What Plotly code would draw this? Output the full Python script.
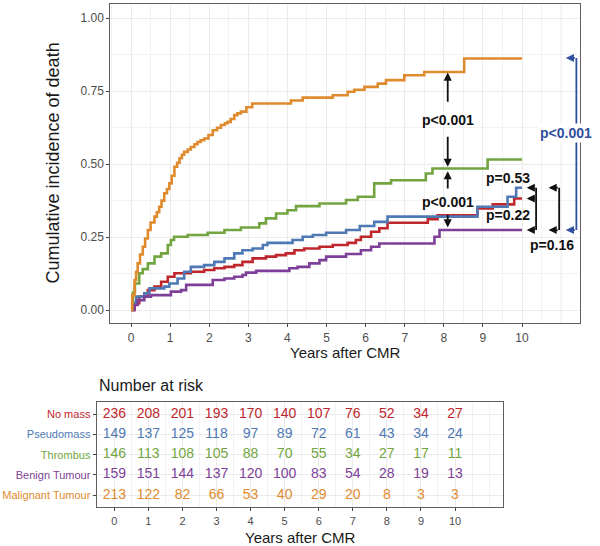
import plotly.graph_objects as go

# ---------------- data ----------------
groups = ["No mass", "Pseudomass", "Thrombus", "Benign Tumour", "Malignant Tumour"]
colors = ["#C0272D", "#4E79B4", "#72A540", "#7D3F98", "#E08A2E"]

nomass_t = [0, 0.09, 0.21, 0.43, 0.6, 0.77, 0.94, 1.11, 1.53, 1.87, 2.13, 2.39, 2.64, 2.85, 3.11, 3.45,
            3.71, 3.96, 4.18, 4.43, 4.82, 5.16, 5.54, 5.75, 5.88, 6.14, 6.35, 6.56, 7.59, 7.84, 8.86, 9.25,
            9.8, 10]
nomass_v = [0, 0.023, 0.046, 0.068, 0.08, 0.097, 0.114, 0.126, 0.131, 0.137, 0.143, 0.148, 0.154, 0.165,
            0.177, 0.183, 0.188, 0.194, 0.205, 0.211, 0.217, 0.223, 0.23, 0.24, 0.251, 0.268, 0.28, 0.299,
            0.311, 0.325, 0.348, 0.362, 0.382, 0.382]

pseudo_t = [0, 0.05, 0.13, 0.34, 0.47, 0.85, 0.98, 1.19, 1.36, 1.53, 1.87, 2.13, 2.39, 2.64, 2.85, 3.11,
            3.37, 3.49, 4.13, 4.39, 4.65, 4.99, 5.5, 5.85, 6.22, 6.56, 8.86, 9.63, 9.85, 10]
pseudo_v = [0, 0.025, 0.046, 0.057, 0.074, 0.08, 0.091, 0.108, 0.131, 0.148, 0.154, 0.165, 0.177, 0.194,
            0.205, 0.211, 0.223, 0.23, 0.24, 0.251, 0.257, 0.265, 0.274, 0.288, 0.302, 0.32, 0.354, 0.388,
            0.419, 0.419]

thromb_t = [0, 0.05, 0.1, 0.21, 0.3, 0.43, 0.6, 0.77, 0.94, 1.02, 1.1, 1.45, 1.96, 2.39, 2.81, 3.28, 3.45,
            3.71, 4.0, 4.22, 4.82, 5.5, 5.8, 6.22, 6.65, 7.54, 7.71, 9.12, 10]
thromb_v = [0, 0.06, 0.091, 0.126, 0.14, 0.16, 0.183, 0.194, 0.223, 0.24, 0.251, 0.257, 0.265, 0.274,
            0.283, 0.297, 0.314, 0.331, 0.342, 0.356, 0.365, 0.377, 0.388, 0.434, 0.445, 0.468, 0.485,
            0.516, 0.516]

benign_t = [0, 0.09, 0.17, 0.34, 0.51, 1.02, 1.28, 1.41, 2.09, 2.39, 2.64, 2.85, 2.94, 3.2, 4.05, 4.26,
            4.56, 4.82, 4.99, 5.5, 5.88, 6.14, 6.35, 7.76, 7.89, 10]
benign_v = [0, 0.017, 0.034, 0.046, 0.051, 0.063, 0.068, 0.086, 0.103, 0.108, 0.114, 0.12, 0.128, 0.134,
            0.143, 0.148, 0.16, 0.171, 0.183, 0.192, 0.205, 0.217, 0.228, 0.251, 0.274, 0.274]

malig_t = [0, 0.03, 0.09, 0.13, 0.17, 0.23, 0.3, 0.36, 0.43, 0.5, 0.6, 0.66, 0.72, 0.78, 0.85, 0.92, 0.98,
           1.04, 1.11, 1.18, 1.24, 1.3, 1.36, 1.45, 1.53, 1.62, 1.7, 1.78, 1.87, 1.98, 2.09, 2.2, 2.3, 2.4,
           2.47, 2.55, 2.64, 2.72, 2.81, 2.95, 3.1, 4.09, 4.39, 5.16, 5.54, 5.71, 5.97, 6.31, 6.52, 6.99,
           7.5, 8.52, 10]
malig_v = [0, 0.05, 0.103, 0.13, 0.16, 0.19, 0.217, 0.245, 0.274, 0.3, 0.32, 0.335, 0.354, 0.375, 0.4,
           0.415, 0.434, 0.46, 0.491, 0.505, 0.52, 0.532, 0.542, 0.55, 0.559, 0.568, 0.576, 0.582, 0.588,
           0.6, 0.616, 0.625, 0.634, 0.64, 0.645, 0.655, 0.668, 0.674, 0.68, 0.695, 0.708, 0.718, 0.728,
           0.736, 0.748, 0.755, 0.765, 0.776, 0.788, 0.805, 0.816, 0.862, 0.862]

years = list(range(11))
risk_nomass = [236, 208, 201, 193, 170, 140, 107, 76, 52, 34, 27]
risk_pseudo = [149, 137, 125, 118, 97, 89, 72, 61, 43, 34, 24]
risk_thromb = [146, 113, 108, 105, 88, 70, 55, 34, 27, 17, 11]
risk_benign = [159, 151, 144, 137, 120, 100, 83, 54, 28, 19, 13]
risk_malig = [213, 122, 82, 66, 53, 40, 29, 20, 8, 3, 3]

y_ticks = [0, 0.25, 0.5, 0.75, 1.0]

curves = [(nomass_t, nomass_v), (pseudo_t, pseudo_v), (thromb_t, thromb_v),
          (benign_t, benign_v), (malig_t, malig_v)]
risks = [risk_nomass, risk_pseudo, risk_thromb, risk_benign, risk_malig]

# ---------------- figure ----------------
FONT = "Liberation Sans, Arial, sans-serif"
W, H = 600, 546
fig = go.Figure()

for (t, v), c, g in zip(curves, colors, groups):
    fig.add_trace(go.Scatter(x=t, y=v, mode="lines", line=dict(color=c, width=2.6, shape="hv"),
                             name=g, showlegend=False, xaxis="x", yaxis="y", hoverinfo="skip"))

row_pos = [5, 4, 3, 2, 1]
for r, c, rp in zip(risks, colors, row_pos):
    fig.add_trace(go.Scatter(x=years, y=[rp] * len(years), mode="text", text=[str(n) for n in r],
                             textfont=dict(color=c, size=14, family=FONT), textposition="middle center",
                             showlegend=False, xaxis="x2", yaxis="y2", hoverinfo="skip"))

axis_common = dict(showline=True, mirror=True, linecolor="#5f5f5f", linewidth=1,
                   ticks="outside", ticklen=3, tickwidth=1, tickcolor="#444444",
                   gridcolor="#EBEBEB", gridwidth=1, zeroline=False, automargin=False)
TF12 = dict(size=12, color="#4D4D4D", family=FONT)
TF11 = dict(size=11, color="#4D4D4D", family=FONT)

fig.update_layout(
    width=W, height=H, autosize=False, margin=dict(l=0, r=0, t=0, b=0, pad=0),
    paper_bgcolor="white", plot_bgcolor="white", showlegend=False,
    font=dict(family=FONT),
    xaxis=dict(domain=[110.3 / W, 579.5 / W], range=[-0.53, 11.47], tickmode="array",
               tickvals=years, ticktext=[str(y) for y in years], tickfont=TF12,
               minor=dict(dtick=0.5, tick0=0, showgrid=True, gridcolor="#F2F2F2", gridwidth=0.7, ticks=""),
               anchor="y", **axis_common),
    yaxis=dict(domain=[1 - 323.3 / H, 1 - 4 / H], range=[-0.0456, 1.049], tickmode="array",
               tickvals=y_ticks, ticktext=["%.2f" % v for v in y_ticks], tickfont=TF12,
               minor=dict(dtick=0.125, tick0=0, showgrid=True, gridcolor="#F2F2F2", gridwidth=0.7, ticks=""),
               anchor="x", **axis_common),
    xaxis2=dict(domain=[96.6 / W, 503.4 / W], range=[-0.52, 11.42], tickmode="array",
                tickvals=years, ticktext=[str(y) for y in years], tickfont=TF11,
                minor=dict(dtick=0.5, tick0=0, showgrid=True, gridcolor="#F2F2F2", gridwidth=0.7, ticks=""),
                anchor="y2", **axis_common),
    yaxis2=dict(domain=[1 - 507.3 / H, 1 - 402.3 / H], range=[0.4, 5.6], tickmode="array",
                tickvals=row_pos, tickfont=TF11,
                ticktext=['<span style="color:%s">%s</span>' % (c, g) for c, g in zip(colors, groups)],
                anchor="x2", **axis_common),
)

# gridline at 11 on top panel (beyond labelled ticks)
fig.add_shape(type="line", xref="x", yref="paper", x0=11, x1=11, y0=1 - 323.3 / H, y1=1 - 4 / H,
              line=dict(color="#EBEBEB", width=1), layer="below")

# axis titles
TITLE = dict(xref="paper", yref="paper", showarrow=False, xanchor="center", yanchor="middle")
fig.add_annotation(text="Cumulative incidence of death", x=52 / W, y=1 - 163.5 / H, textangle=-90,
                   font=dict(size=18, color="#1a1a1a", family=FONT), **TITLE)
fig.add_annotation(text="Years after CMR", x=345 / W, y=1 - 352.3 / H,
                   font=dict(size=15, color="#1a1a1a", family=FONT), **TITLE)
fig.add_annotation(text="Years after CMR", x=300 / W, y=1 - 537.5 / H,
                   font=dict(size=15, color="#1a1a1a", family=FONT), **TITLE)
fig.add_annotation(text="Number at risk", xref="paper", yref="paper", x=96.6 / W, y=1 - 385 / H,
                   xanchor="left", yanchor="middle", showarrow=False,
                   font=dict(size=16, color="#1a1a1a", family=FONT))

# ---------------- p-value annotations ----------------
BLK = "#111111"
PBLUE = "#2F4F9E"


def arrow(xt, yt, xs, ys, color=BLK):
    fig.add_annotation(x=xt, y=yt, ax=xs, ay=ys, xref="x", yref="y", axref="x", ayref="y",
                       text="", showarrow=True, arrowhead=2, arrowsize=0.9, arrowwidth=1.8,
                       arrowcolor=color, standoff=0, startstandoff=0)


def seg(x0, y0, x1, y1, color=BLK):
    fig.add_shape(type="line", xref="x", yref="y", x0=x0, y0=y0, x1=x1, y1=y1,
                  line=dict(color=color, width=1.8))


def label(x, y, txt, color=BLK, bg=None):
    fig.add_annotation(x=x, y=y, xref="x", yref="y", text="<b>%s</b>" % txt, showarrow=False,
                       xanchor="center", yanchor="middle",
                       font=dict(size=14, color=color, family=FONT),
                       bgcolor=bg if bg else "rgba(0,0,0,0)", borderpad=1)


# malignant vs thrombus
arrow(8.1, 0.814, 8.1, 0.709)
arrow(8.1, 0.491, 8.1, 0.599)
label(8.1, 0.651, "p<0.001")
# thrombus vs benign
arrow(8.1, 0.476, 8.1, 0.411)
arrow(8.1, 0.283, 8.1, 0.331)
label(8.1, 0.371, "p<0.001")

# bracket 1
xb1, xt1 = 10.36, 10.12
seg(xb1, 0.419, xb1, 0.274)
arrow(xt1, 0.419, xb1, 0.419)
arrow(xt1, 0.382, xb1, 0.382)
arrow(xt1, 0.274, xb1, 0.274)
label(9.64, 0.451, "p=0.53")
label(9.64, 0.325, "p=0.22")

# bracket 2
xb2, xt2 = 10.95, 10.68
seg(xb2, 0.419, xb2, 0.274)
arrow(xt2, 0.419, xb2, 0.419)
arrow(xt2, 0.274, xb2, 0.274)
label(10.77, 0.223, "p=0.16")

# blue bracket (malignant vs benign)
xb3, xt3 = 11.39, 11.12
seg(xb3, 0.864, xb3, 0.274, PBLUE)
arrow(xt3, 0.864, xb3, 0.864, PBLUE)
arrow(xt3, 0.274, xb3, 0.274, PBLUE)
label(11.12, 0.608, "p<0.001", PBLUE, "white")

fig.write_html("out.html", config={"displayModeBar": False},
               post_script="document.body.style.margin='0';document.body.style.padding='0';"
                           "document.body.style.overflow='hidden';")
